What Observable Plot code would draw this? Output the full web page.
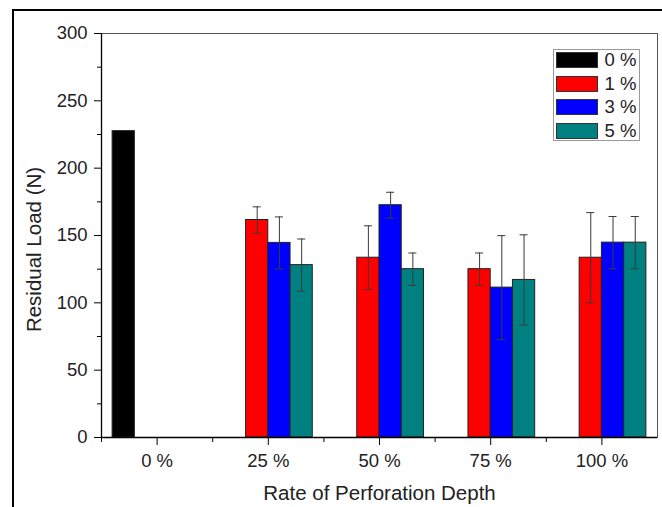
<!DOCTYPE html>
<html>
<head>
<meta charset="utf-8">
<script src="https://cdn.jsdelivr.net/npm/d3@7"></script>
<script src="https://cdn.jsdelivr.net/npm/@observablehq/plot@0.6"></script>
<style>
  body { margin: 0; background: #fff; }
  #wrap { position: relative; width: 662px; height: 507px; overflow: hidden; background: #fff;
          font-family: Arial, "Liberation Sans", sans-serif; }
  #wrap svg { position: absolute; left: 0; top: 0; }
  #outer { position: absolute; left: 11.5px; top: 9px; width: 800px; height: 800px;
           border-left: 2.5px solid #000; border-top: 2.5px solid #000; pointer-events: none; }
  #legend { position: absolute; left: 553px; top: 48.5px; width: 87px; height: 92px;
            border: 1px solid #999; background: #fff; box-sizing: border-box; }
  .row { position: absolute; left: 1.5px; height: 16px; width: 84px; }
  .sw { position: absolute; left: 0; top: 0; width: 42px; height: 16px; box-sizing: border-box; border: 1px solid #333; }
  .lb { position: absolute; left: 49px; top: -3px; font-size: 18.5px; line-height: 22px; color: #222; white-space: nowrap; }
</style>
</head>
<body>
<div id="wrap"><div id="outer"></div></div>
<script>
// ---- data ----
const categories = ["0 %", "25 %", "50 %", "75 %", "100 %"];   // Rate of Perforation Depth
const seriesNames = ["0 %", "1 %", "3 %", "5 %"];
const seriesColors = ["#000000", "#ff0000", "#0000ff", "#008080"];

const load0 = [227.5, null, null, null, null];
const load1 = [null, 161.5, 133.5, 125, 133.5];
const load3 = [null, 144.5, 172.5, 111.3, 144.7];
const load5 = [null, 128, 125, 117, 144.7];

const err0 = [null, null, null, null, null];
const err1 = [null, 9.8, 23.7, 12, 33.5];
const err3 = [null, 19.3, 9.6, 38.6, 19.4];
const err5 = [null, 19.4, 12, 33.5, 19.4];

const yMajor = [0, 50, 100, 150, 200, 250, 300];
const yMinor = [25, 75, 125, 175, 225, 275];

// ---- table built from the arrays ----
const values = [load0, load1, load3, load5];
const errors = [err0, err1, err3, err5];
const rows = [];
seriesNames.forEach((s, j) => {
  values[j].forEach((v, i) => {
    if (v != null) rows.push({ i, j, series: s, value: v, err: errors[j][i] });
  });
});
const rowsE = rows.filter(d => d.err != null);

const slot = 0.2;                       // each bar is 1/5 of a category step
const x1 = d => d.i - 0.4 + d.j * slot;
const x2 = d => x1(d) + slot;
const xc = d => x1(d) + slot / 2;
const cap = 0.036;

const catIdx = categories.map((_, i) => i);
const xMinor = [-0.5, 0.5, 1.5, 2.5, 3.5];

const plot = Plot.plot({
  width: 662,
  height: 507,
  marginLeft: 101,
  marginRight: 5,
  marginTop: 33,
  marginBottom: 70,
  style: { fontFamily: 'Arial, "Liberation Sans", sans-serif', color: "#222", background: "transparent" },
  x: { type: "linear", domain: [-0.5, 4.5] },
  y: { domain: [0, 300] },
  color: { type: "ordinal", domain: seriesNames, range: seriesColors },
  marks: [
    Plot.frame({ stroke: "#555", strokeWidth: 1 }),
    Plot.rectY(rows, { x1, x2, y: "value", fill: "series", stroke: "#222", strokeWidth: 1 }),
    Plot.ruleX(rowsE, { x: xc, y1: d => d.value - d.err, y2: d => d.value + d.err, stroke: "#3a3a3a", strokeWidth: 1 }),
    Plot.ruleY(rowsE, { y: d => d.value + d.err, x1: d => xc(d) - cap, x2: d => xc(d) + cap, stroke: "#3a3a3a", strokeWidth: 1 }),
    Plot.ruleY(rowsE, { y: d => d.value - d.err, x1: d => xc(d) - cap, x2: d => xc(d) + cap, stroke: "#3a3a3a", strokeWidth: 1 }),
    Plot.axisX({ ticks: catIdx, tickFormat: i => categories[i], tickSize: 8, tickPadding: 8, fontSize: 18.5, label: null, stroke: "#000" }),
    Plot.axisX({ ticks: xMinor, tickFormat: () => "", tickSize: 5, label: null, stroke: "#000" }),
    Plot.axisY({ ticks: yMajor, tickSize: 7, tickPadding: 7, fontSize: 18.5, label: null, stroke: "#000" }),
    Plot.axisY({ ticks: yMinor, tickFormat: () => "", tickSize: 4, label: null, stroke: "#000" }),
    Plot.ruleY([0], { stroke: "#000", strokeWidth: 1.3 }),
    Plot.ruleX([-0.5], { stroke: "#000", strokeWidth: 1.3 }),
    Plot.text(["Rate of Perforation Depth"], { text: d => d, frameAnchor: "bottom", lineAnchor: "middle", textAnchor: "middle", dy: 56, fontSize: 20.5, fill: "#222" }),
    Plot.text(["Residual Load (N)"], { text: d => d, frameAnchor: "left", lineAnchor: "middle", textAnchor: "middle", rotate: -90, dx: -67, dy: 14, fontSize: 20.5, fill: "#222" })
  ]
});

const wrap = document.getElementById("wrap");
wrap.insertBefore(plot, wrap.firstChild);

// legend inside the plot area, colours taken from the plot's colour scale
const color = plot.scale("color");
const legend = document.createElement("div");
legend.id = "legend";
color.domain.forEach((s, k) => {
  const row = document.createElement("div");
  row.className = "row";
  row.style.top = (2.5 + k * 23.7) + "px";
  const sw = document.createElement("div");
  sw.className = "sw";
  sw.style.background = color.apply(s);
  const lb = document.createElement("div");
  lb.className = "lb";
  lb.textContent = s;
  row.appendChild(sw);
  row.appendChild(lb);
  legend.appendChild(row);
});
wrap.appendChild(legend);
</script>
</body>
</html>
